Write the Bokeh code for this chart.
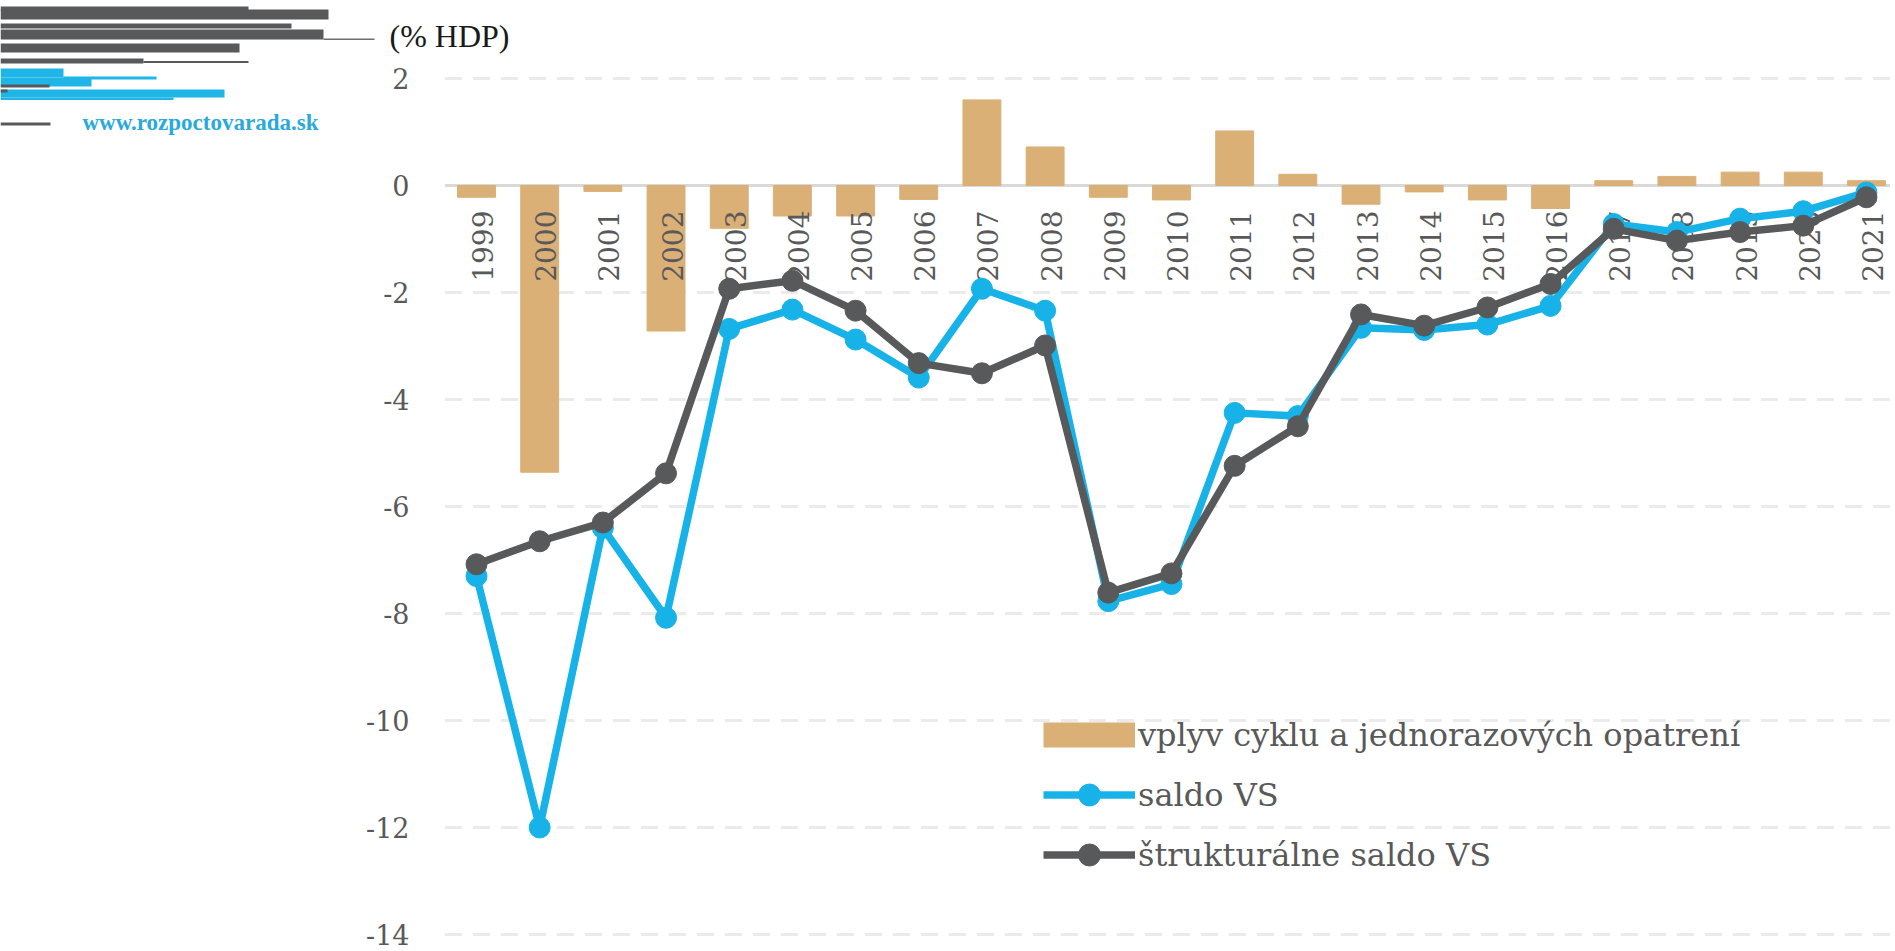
import math
from bokeh.plotting import figure
from bokeh.models import Range1d, Legend, LegendItem, ColumnDataSource
from bokeh.core.properties import value
from bokeh.embed import file_html
from bokeh.resources import INLINE

# ---------------- data ----------------
years = list(range(1999, 2022))
year_labels = [str(y) for y in years]
cycle_effect = [-0.22, -5.36, -0.11, -2.72, -0.80, -0.57, -0.57, -0.26, 1.60, 0.72,
                -0.22, -0.27, 1.02, 0.21, -0.35, -0.12, -0.27, -0.43, 0.09, 0.17,
                0.25, 0.25, 0.09]
saldo_vs = [-7.30, -12.00, -6.40, -8.08, -2.68, -2.32, -2.88, -3.59, -1.93, -2.34,
            -7.77, -7.45, -4.25, -4.31, -2.66, -2.70, -2.60, -2.25, -0.72, -0.87,
            -0.62, -0.48, -0.13]
struct_saldo_vs = [-7.08, -6.65, -6.30, -5.38, -1.93, -1.78, -2.34, -3.32, -3.51, -2.99,
                   -7.61, -7.25, -5.24, -4.50, -2.41, -2.62, -2.28, -1.84, -0.81, -1.03,
                   -0.87, -0.75, -0.22]
y_ticks = [2, 0, -2, -4, -6, -8, -10, -12, -14]
y_tick_labels = ["2", "0", "-2", "-4", "-6", "-8", "-10", "-12", "-14"]
legend_labels = ["vplyv cyklu a jednorazových opatrení", "saldo VS", "štrukturálne saldo VS"]
unit_label = "(% HDP)"
site_label = "www.rozpoctovarada.sk"

# ---------------- styles / geometry ----------------
BAR_COLOR = "#DBB077"
BLUE = "#17B3E8"
LOGO_BLUE = "#1FB5E7"
DARK = "#58595B"
TEXT_GRAY = "#595959"
FONT = "DejaVu Serif"

W, H = 1890, 950
PPX = 63.18          # pixels per category
PPY = 53.5           # pixels per percentage point
X0 = years[0] - 476 / PPX      # x value at the left canvas edge
Y0 = 185 / PPY                 # y value at the top canvas edge
X_END = X0 + W / PPX
Y_END = Y0 - H / PPY

def dx(px):
    return X0 + px / PPX

def dy(py):
    return Y0 - py / PPY

p = figure(width=W, height=H, output_backend="svg", toolbar_location=None,
           x_range=Range1d(X0, X_END), y_range=Range1d(Y_END, Y0),
           min_border=0, min_border_left=0, min_border_right=0,
           min_border_top=0, min_border_bottom=0)
p.outline_line_color = None
p.xaxis.visible = False
p.yaxis.visible = False
p.xgrid.visible = False
p.ygrid.visible = False

src = ColumnDataSource(dict(year=years, label=year_labels, cycle=cycle_effect,
                            saldo=saldo_vs, struct=struct_saldo_vs))

plot_left = years[0] - 0.5
grid_ticks = [t for t in y_ticks if t != 0]

# dashed grid
p.segment(x0=plot_left, x1=X_END, y0=grid_ticks, y1=grid_ticks,
          line_color="#EBEBEB", line_width=3, line_dash="17 11")
# zero line
p.segment(x0=plot_left, x1=X_END, y0=[0], y1=[0], line_color="#D9D9D9", line_width=3)

# y tick labels
p.text(x=dx(409), y=y_ticks, text=y_tick_labels, text_align="right",
       text_baseline="middle", text_font=value(FONT), text_font_size="27px",
       text_color=TEXT_GRAY)

# bars
p.vbar(x="year", top="cycle", width=0.6, source=src, color=BAR_COLOR)

# category labels (rotated, just below the zero line)
p.text(x="year", y=dy(210), text="label", source=src, angle=math.pi / 2,
       text_align="right", text_baseline="middle", x_offset=6,
       text_font=value(FONT), text_font_size="28px", text_color=TEXT_GRAY)

# lines
l1 = p.line(x="year", y="saldo", source=src, line_color=BLUE, line_width=7.5,
            line_join="round")
s1 = p.scatter(x="year", y="saldo", source=src, marker="circle", size=21,
               fill_color=BLUE, line_color=BLUE)
l2 = p.line(x="year", y="struct", source=src, line_color=DARK, line_width=7.5,
            line_join="round")
s2 = p.scatter(x="year", y="struct", source=src, marker="circle", size=21,
               fill_color=DARK, line_color=DARK)

# legend swatch for the bars (thick line gives a 92x25 block)
swatch = p.line(x=[years[0]], y=[float("nan")], line_color=BAR_COLOR,
                line_width=25, line_cap="butt")

legend = Legend(items=[
    LegendItem(label=legend_labels[0], renderers=[swatch]),
    LegendItem(label=legend_labels[1], renderers=[l1, s1]),
    LegendItem(label=legend_labels[2], renderers=[l2, s2]),
], location=(1043, H - 882))
legend.padding = 0
legend.margin = 0
legend.spacing = 5
legend.glyph_width = 92
legend.glyph_height = 55
legend.label_height = 55
legend.label_standoff = 3
legend.label_text_font = FONT
legend.label_text_font_size = "32px"
legend.label_text_color = TEXT_GRAY
legend.border_line_color = None
legend.background_fill_alpha = 0
p.add_layout(legend, "center")

# ---------------- header decoration (logo, unit) ----------------
logo_gray = [(0, 248, 6, 10), (0, 328, 9, 19), (0, 291, 23, 28), (0, 323, 29, 39),
             (0, 239, 43, 52), (0, 143, 58, 63), (143, 248, 60.5, 62.5),
             (0, 50, 122, 125)]
logo_thin = [(323, 374, 38, 39.5)]
logo_blue = [(0, 63, 68, 77), (63, 156, 76, 79), (0, 91, 77, 86),
             (0, 224, 89, 97), (0, 173, 97, 99.5)]
logo_gray2 = [(0, 49, 84, 87), (0, 7, 89, 92)]

def add_boxes(boxes, color):
    p.quad(left=[dx(b[0]) for b in boxes], right=[dx(b[1]) for b in boxes],
           top=[dy(b[2]) for b in boxes], bottom=[dy(b[3]) for b in boxes],
           fill_color=color, line_color=None)

add_boxes(logo_gray, DARK)
add_boxes(logo_thin, "#6d6e70")
add_boxes(logo_blue, LOGO_BLUE)
add_boxes(logo_gray2, DARK)

p.text(x=[dx(389)], y=[dy(35)], text=[unit_label], text_font=value("Liberation Serif"),
       text_font_size="32px", text_color="#1a1a1a", text_baseline="middle")
p.text(x=[dx(82)], y=[dy(122)], text=[site_label], text_font=value("Liberation Serif"),
       text_font_style="bold", text_font_size="23px", text_color="#2AA9DC",
       text_baseline="middle")

open("out.html", "w").write(file_html(p, INLINE))
